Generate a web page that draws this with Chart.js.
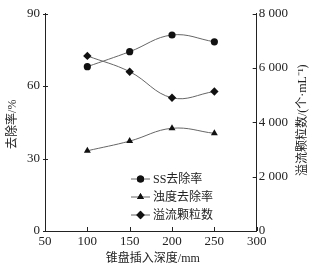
<!DOCTYPE html>
<html><head><meta charset="utf-8">
<script src="https://cdn.jsdelivr.net/npm/chart.js@4/dist/chart.umd.min.js"></script>
<style>html,body{margin:0;padding:0;background:#fff}#wrap{width:320px;height:272px}</style>
</head><body><div id="wrap"><canvas id="c" width="320" height="272"></canvas></div>
<script>
const depths = [100, 150, 200, 250];
const ssRemoval = [68.0, 74.2, 81.1, 78.3];
const turbRemoval = [33.2, 37.2, 42.5, 40.4];
const particles = [6440, 5860, 4900, 5130];
const xTicks = [50, 100, 150, 200, 250, 300];
const yTicks = [0, 30, 60, 90];
const y2Ticks = [0, 2000, 4000, 6000, 8000];
const seriesNames = ['SS去除率', '浊度去除率', '溢流颗粒数'];
const xTitle = '锥盘插入深度/mm';
const yTitle = '去除率/%';
const y2Title = '溢流颗粒数/(个·mL⁻¹)';

const FONT = '"Liberation Serif", "Noto Sans CJK SC", serif';
const INK = '#222';
const pts = arr => depths.map((d, i) => ({x: d, y: arr[i]}));
const fmt = v => String(v).replace(/\B(?=(\d{3})+(?!\d))/g, ' ');

const common = {borderColor: '#666', borderWidth: 1, pointBackgroundColor: '#111', pointBorderColor: '#111', pointBorderWidth: 0, tension: 0.4, fill: false};

const decor = {
  id: 'decor',
  afterDraw(chart) {
    const ctx = chart.ctx, a = chart.chartArea;
    const sx = chart.scales.x, sy = chart.scales.y, sy2 = chart.scales.y2;
    ctx.save();
    ctx.strokeStyle = INK; ctx.lineWidth = 1;
    // inward ticks
    ctx.beginPath();
    xTicks.forEach(v => { const p = Math.round(sx.getPixelForValue(v)) + 0.5; ctx.moveTo(p, a.bottom); ctx.lineTo(p, a.bottom - 4); });
    yTicks.forEach(v => { const p = Math.round(sy.getPixelForValue(v)) + 0.5; ctx.moveTo(a.left - 2, p); ctx.lineTo(a.left + 3, p); });
    y2Ticks.forEach(v => { const p = Math.round(sy2.getPixelForValue(v)) + 0.5; ctx.moveTo(a.right, p); ctx.lineTo(a.right - 4, p); });
    ctx.stroke();
    // titles
    ctx.fillStyle = INK;
    ctx.font = '12px ' + FONT;
    ctx.textAlign = 'center'; ctx.textBaseline = 'middle';
    ctx.fillText(xTitle, (a.left + a.right) / 2 + 2, 259);
    ctx.save(); ctx.translate(13, (a.top + a.bottom) / 2 + 2); ctx.rotate(-Math.PI / 2); ctx.fillText(yTitle, 0, 0); ctx.restore();
    ctx.save(); ctx.translate(303, (a.top + a.bottom) / 2 - 2); ctx.rotate(-Math.PI / 2); ctx.fillText(y2Title, 0, 0); ctx.restore();
    // legend
    const rows = [178.5, 196.5, 214.5];
    chart.data.datasets.forEach((ds, i) => {
      const y = rows[i];
      ctx.strokeStyle = '#666'; ctx.lineWidth = 1;
      ctx.beginPath(); ctx.moveTo(131, y + 0.5); ctx.lineTo(150, y + 0.5); ctx.stroke();
      Chart.helpers.drawPoint(ctx, {pointStyle: ds.pointStyle, radius: ds.pointRadius, borderWidth: 0}, 140.5, y + 0.5);
      ctx.fillStyle = '#111';
      ctx.fill();
      ctx.fillStyle = INK;
      ctx.textAlign = 'left'; ctx.textBaseline = 'middle';
      ctx.font = '12px ' + FONT;
      ctx.fillText(ds.label, 153, y + 1);
    });
    ctx.restore();
  }
};

new Chart(document.getElementById('c'), {
  type: 'line',
  data: {
    datasets: [
      Object.assign({}, common, {label: seriesNames[0], data: pts(ssRemoval), yAxisID: 'y', pointStyle: 'circle', pointRadius: 3.6}),
      Object.assign({}, common, {label: seriesNames[1], data: pts(turbRemoval), yAxisID: 'y', pointStyle: 'triangle', pointRadius: 4}),
      Object.assign({}, common, {label: seriesNames[2], data: pts(particles), yAxisID: 'y2', pointStyle: 'rectRot', pointRadius: 4.2})
    ]
  },
  options: {
    responsive: false, animation: false, devicePixelRatio: 1,
    layout: {padding: {top: 13.5, left: 0, right: 0, bottom: 0}},
    plugins: {legend: {display: false}, tooltip: {enabled: false}},
    scales: {
      x: {type: 'linear', min: 50, max: 300, position: 'bottom',
        afterBuildTicks: s => { s.ticks = xTicks.map(v => ({value: v})); },
        afterFit: s => { s.height = 41; },
        grid: {display: true, drawOnChartArea: false, drawTicks: false},
        border: {display: true, color: INK, width: 1},
        ticks: {color: INK, padding: 3, font: {family: FONT, size: 13}, maxRotation: 0}
      },
      y: {type: 'linear', min: 0, max: 90, position: 'left',
        afterBuildTicks: s => { s.ticks = yTicks.map(v => ({value: v})); },
        afterFit: s => { s.width = 45; },
        grid: {display: true, drawOnChartArea: false, drawTicks: false},
        border: {display: true, color: INK, width: 1},
        ticks: {color: INK, padding: 5, font: {family: FONT, size: 13}}
      },
      y2: {type: 'linear', min: 0, max: 8000, position: 'right',
        afterBuildTicks: s => { s.ticks = y2Ticks.map(v => ({value: v})); },
        afterFit: s => { s.width = 63.3; },
        grid: {display: true, drawOnChartArea: false, drawTicks: false},
        border: {display: true, color: INK, width: 1},
        ticks: {color: INK, padding: 2, font: {family: FONT, size: 13}, callback: v => fmt(v)}
      }
    }
  },
  plugins: [decor]
});
</script>
</body></html>
